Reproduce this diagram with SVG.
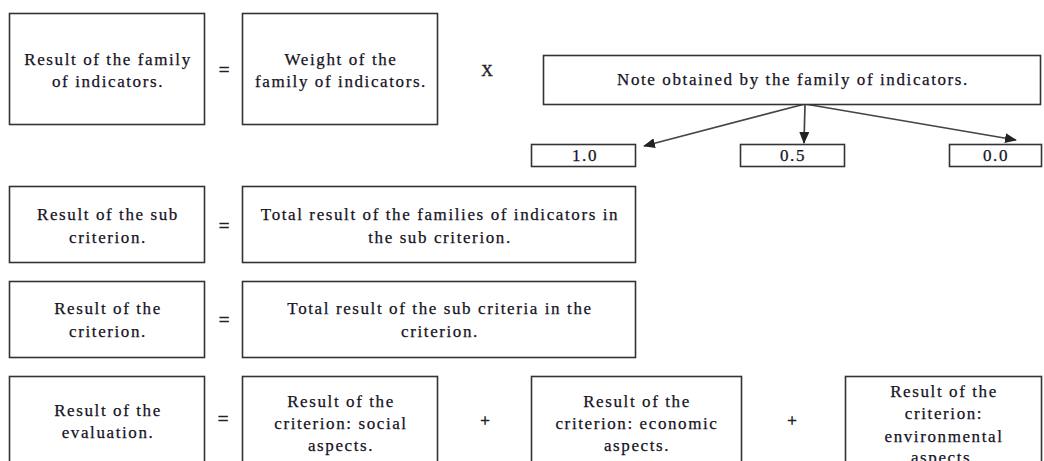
<svg xmlns="http://www.w3.org/2000/svg" width="1044" height="461" viewBox="0 0 1044 461">
<defs>
<style>
.box{fill:#fff;stroke:#333;stroke-width:1.6}
.t{font-family:"Liberation Serif","Times New Roman",serif;font-size:17px;letter-spacing:1.6px;fill:#15131f;stroke:#15131f;stroke-width:0.25;text-anchor:middle}
.op{font-family:"Liberation Serif","Times New Roman",serif;font-size:19px;fill:#222;stroke:#222;stroke-width:0.5;text-anchor:middle}
.edge{stroke:#444;stroke-width:1.7;fill:none;marker-end:url(#ah)}
</style>
<marker id="ah" viewBox="0 0 12 10" refX="11" refY="5" markerWidth="12" markerHeight="10" markerUnits="userSpaceOnUse" orient="auto"><path d="M0,0 L12,5 L0,10 z" fill="#222"/></marker>
</defs>
<rect width="1044" height="461" fill="#fff"/>
<g id="connectors">
<line class="edge" x1="805" y1="104" x2="644" y2="146"/>
<line class="edge" x1="805" y1="104" x2="804" y2="143"/>
<line class="edge" x1="805" y1="104" x2="1016" y2="140"/>
</g>
<g id="family-result"><rect class="box" x="9.5" y="13.5" width="195" height="111"/>
<text class="t" x="108" y="65">Result of the family</text><text class="t" x="108" y="87">of indicators.</text></g>
<text class="op" x="224" y="76">=</text>
<g id="family-weight"><rect class="box" x="242.5" y="13.5" width="195" height="111"/>
<text class="t" x="341" y="65">Weight of the</text><text class="t" x="341" y="87">family of indicators.</text></g>
<text class="op" x="487" y="76" style="font-size:16px;stroke-width:0.4">X</text>
<g id="note"><rect class="box" x="543.5" y="55.5" width="497" height="49"/>
<text class="t" x="793" y="85">Note obtained by the family of indicators.</text></g>
<g id="v10"><rect class="box" x="531.5" y="144.5" width="104" height="22"/><text class="t" x="585" y="161">1.0</text></g>
<g id="v05"><rect class="box" x="740.5" y="144.5" width="104" height="22"/><text class="t" x="793" y="161">0.5</text></g>
<g id="v00"><rect class="box" x="949.5" y="144.5" width="92" height="22"/><text class="t" x="996" y="161">0.0</text></g>
<g id="sub-result"><rect class="box" x="9.5" y="186.5" width="195" height="76"/>
<text class="t" x="108" y="220">Result of the sub</text><text class="t" x="108" y="243">criterion.</text></g>
<text class="op" x="224" y="232">=</text>
<g id="sub-total"><rect class="box" x="242.5" y="186.5" width="393" height="76"/>
<text class="t" x="440" y="220">Total result of the families of indicators in</text><text class="t" x="440" y="243">the sub criterion.</text></g>
<g id="crit-result"><rect class="box" x="9.5" y="281.5" width="195" height="76"/>
<text class="t" x="108" y="314">Result of the</text><text class="t" x="108" y="337">criterion.</text></g>
<text class="op" x="224" y="326">=</text>
<g id="crit-total"><rect class="box" x="242.5" y="281.5" width="393" height="76"/>
<text class="t" x="440" y="314">Total result of the sub criteria in the</text><text class="t" x="440" y="337">criterion.</text></g>
<g id="eval-result"><rect class="box" x="9.5" y="376.5" width="195" height="100"/>
<text class="t" x="108" y="416">Result of the</text><text class="t" x="108" y="438">evaluation.</text></g>
<text class="op" x="223" y="425">=</text>
<g id="social"><rect class="box" x="242.5" y="376.5" width="195" height="100"/>
<text class="t" x="341" y="407">Result of the</text><text class="t" x="341" y="429">criterion: social</text><text class="t" x="341" y="451">aspects.</text></g>
<text class="op" x="485" y="426" style="font-size:17px">+</text>
<g id="economic"><rect class="box" x="531.5" y="376.5" width="210" height="100"/>
<text class="t" x="637" y="407">Result of the</text><text class="t" x="637" y="429">criterion: economic</text><text class="t" x="637" y="451">aspects.</text></g>
<text class="op" x="792" y="426" style="font-size:17px">+</text>
<g id="environmental"><rect class="box" x="845.5" y="376.5" width="196" height="100"/>
<text class="t" x="944" y="397">Result of the</text><text class="t" x="944" y="419">criterion:</text><text class="t" x="944" y="442">environmental</text><text class="t" x="944" y="463">aspects.</text></g>
</svg>
